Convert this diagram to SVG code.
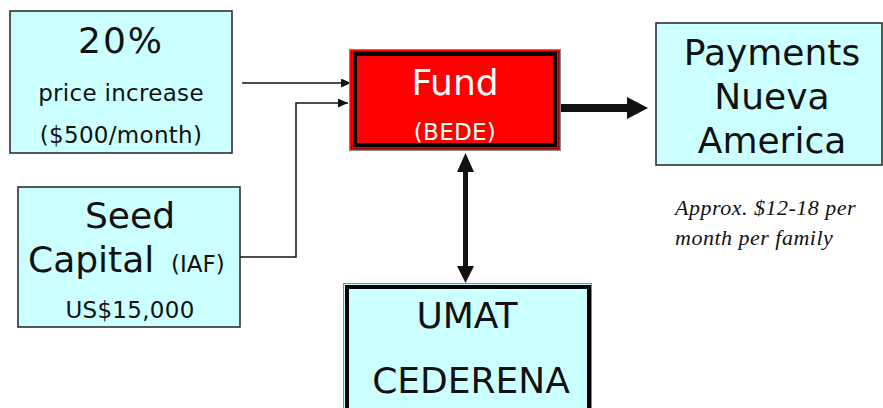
<svg xmlns="http://www.w3.org/2000/svg" width="883" height="408" viewBox="0 0 883 408">
<style>
.box{fill:#ccffff;stroke:#222;stroke-width:1.5}
.t{font-family:"DejaVu Sans",Verdana,sans-serif;fill:#111;text-anchor:middle}
.big{font-size:36px}
.sm{font-size:23px;letter-spacing:0.3px}
.it{font-family:"Liberation Serif","Times New Roman",serif;font-style:italic;font-size:22px;fill:#111;letter-spacing:0.5px}
.thin{fill:none;stroke:#111;stroke-width:1.5}
</style>
<defs>
<marker id="ah" markerWidth="10" markerHeight="9" refX="10" refY="4.5" orient="auto" markerUnits="userSpaceOnUse">
<path d="M0,0 L10,4.5 L0,9 Z" fill="#111"/>
</marker>
</defs>
<rect width="883" height="408" fill="#fff"/>
<g id="connectors">
<path class="thin" d="M242,83 H351" marker-end="url(#ah)"/>
<path class="thin" d="M240,257 H296 V103 H348" marker-end="url(#ah)"/>
<path d="M561,108 H628" stroke="#111" stroke-width="8" fill="none"/>
<path d="M627,97 L648,108 L627,119 Z" fill="#111"/>
<path d="M465.5,170 V269" stroke="#111" stroke-width="5" fill="none"/>
<path d="M465.5,153 L474,172 L457,172 Z" fill="#111"/>
<path d="M465.5,283 L474,266 L457,266 Z" fill="#111"/>
</g>
<g id="price">
<rect class="box" x="10" y="11" width="222" height="142"/>
<text class="t big" x="121" y="53" letter-spacing="2">20%</text>
<text class="t sm" x="121" y="101">price increase</text>
<text class="t sm" x="121" y="143">($500/month)</text>
</g>
<g id="seed">
<rect class="box" x="18" y="187" width="222" height="140"/>
<text class="t big" x="130" y="228">Seed</text>
<text class="t" x="28" y="272" style="text-anchor:start"><tspan font-size="36">Capital</tspan><tspan font-size="23" x="171">(IAF)</tspan></text>
<text class="t sm" x="130" y="318">US$15,000</text>
</g>
<g id="fund">
<rect x="349.5" y="49.5" width="211" height="101" fill="#ff0000" stroke="#888" stroke-width="1"/>
<rect x="351.5" y="51.5" width="207" height="97" fill="none" stroke="#a00000" stroke-width="1"/>
<rect x="355" y="54" width="200" height="91" fill="none" stroke="#000" stroke-width="4"/>
<text class="t big" x="455" y="95" style="fill:#fff">Fund</text>
<text class="t sm" x="455" y="140" style="fill:#fff">(BEDE)</text>
</g>
<g id="payments">
<rect class="box" x="656" y="23" width="226" height="142"/>
<text class="t big" x="772" y="65">Payments</text>
<text class="t big" x="772" y="109">Nueva</text>
<text class="t big" x="772" y="153">America</text>
</g>
<g id="note">
<text class="it" x="675" y="215">Approx. $12-18 per</text>
<text class="it" x="675" y="245">month per family</text>
</g>
<g id="umat">
<rect x="343.5" y="283.5" width="248" height="140" fill="#ccffff" stroke="#888" stroke-width="1"/>
<rect x="347" y="287" width="242" height="140" fill="none" stroke="#000" stroke-width="4"/>
<text class="t big" x="467" y="328">UMAT</text>
<text class="t big" x="471" y="393">CEDERENA</text>
</g>
</svg>
